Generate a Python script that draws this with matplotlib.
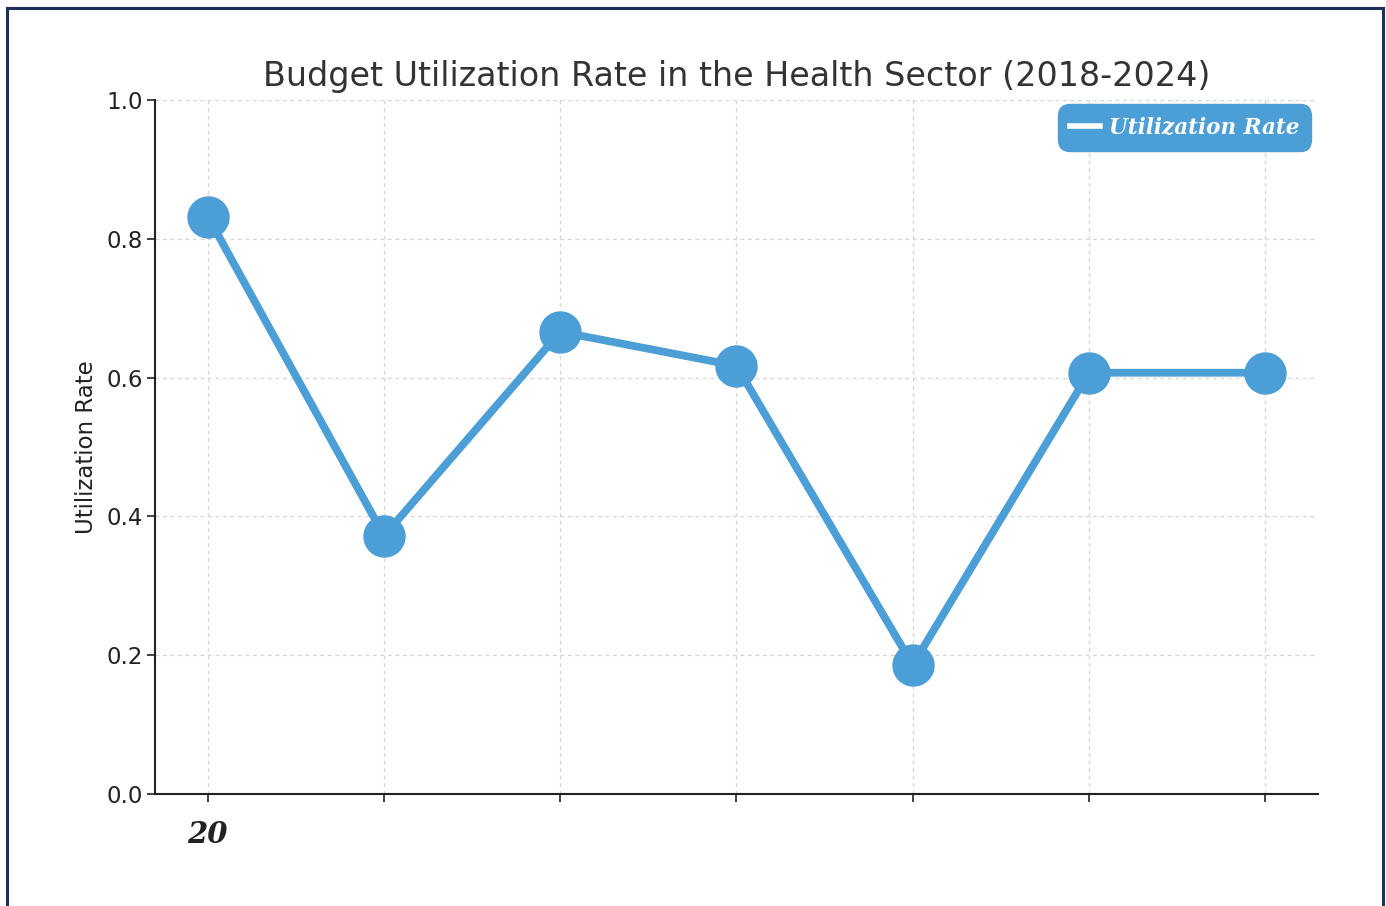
import matplotlib
matplotlib.use("Agg")
import matplotlib.pyplot as plt
from matplotlib.patches import Rectangle
import matplotlib.transforms as mtransforms

years = [2018, 2019, 2020, 2021, 2022, 2023, 2024]
utilization = [0.832, 0.372, 0.666, 0.617, 0.186, 0.607, 0.607]
tick_labels = ["20", "", "", "", "", "", ""]
y_ticks = [0.0, 0.2, 0.4, 0.6, 0.8, 1.0]

BLUE = "#4C9ED6"

fig = plt.figure(figsize=(13.86, 9.06), dpi=100)
ax = fig.add_axes([155/1386, 1-794/906, (1318-155)/1386, (794-100)/906])

# thin underlying green line
shift = mtransforms.offset_copy(ax.transData, fig=fig, x=1.2, y=-0.8, units="dots")
ax.plot(years, utilization, color="#1a8a2e", lw=1.6, transform=shift, zorder=2)
ax.plot(years, utilization, color=BLUE, lw=5.6, zorder=3, label="Utilization Rate")
ax.plot(years, utilization, color=BLUE, lw=0, marker="o", markersize=29.5, zorder=4)

ax.set_xlim(2017.7, 2024.3)
ax.set_ylim(0, 1.0)
ax.set_xticks(years)
ax.set_xticklabels(tick_labels, fontfamily="DejaVu Serif", fontweight="bold",
                   fontstyle="italic", fontsize=21, color="#222222")
ax.set_yticks(y_ticks)
ax.set_yticklabels([f"{v:.1f}" for v in y_ticks], fontsize=16.5, color="#222222")
ax.tick_params(axis="x", length=6, width=1.2, pad=13, colors="#222222")
ax.tick_params(axis="y", length=6, width=1.2, pad=3, colors="#222222")
for s in ["top", "right"]:
    ax.spines[s].set_visible(False)
for s in ["left", "bottom"]:
    ax.spines[s].set_linewidth(1.5)
    ax.spines[s].set_color("#222222")
ax.grid(True, linestyle=(0, (3, 3)), color="#d4d4d4", linewidth=0.9)
ax.set_axisbelow(True)

ax.set_ylabel("Utilization Rate", fontsize=16.5, color="#222222", labelpad=6)
ax.set_title("Budget Utilization Rate in the Health Sector (2018-2024)",
             fontsize=24, color="#333333", pad=10)

leg = ax.legend(handles=[ax.lines[1]], loc="upper right", fancybox=True,
                facecolor=BLUE, edgecolor=BLUE, framealpha=1,
                prop={"family": "DejaVu Serif", "style": "italic", "weight": "bold", "size": 15.5},
                handlelength=1.4, handletextpad=0.4, borderpad=0.42, borderaxespad=0.4,
                bbox_to_anchor=(0.999, 1.002))
leg.get_frame().set_boxstyle("round", pad=0.15, rounding_size=0.55)
for t in leg.get_texts():
    t.set_color("white")
for l in leg.get_lines():
    l.set_color("white")
    l.set_linewidth(4)

border = Rectangle((7/1386, -0.02), (1383-7)/1386, 1-8/906+0.02, transform=fig.transFigure,
                   fill=False, edgecolor="#1f2f5c", linewidth=2.2, zorder=10)
fig.patches.append(border)

fig.savefig("out.png", dpi=100, facecolor="white")
